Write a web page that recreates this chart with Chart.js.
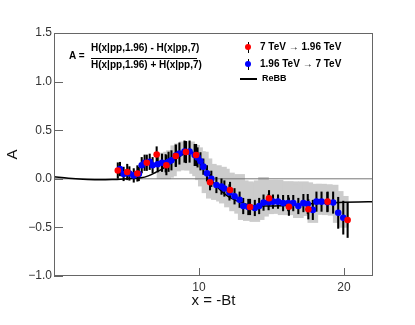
<!DOCTYPE html>
<html>
<head>
<meta charset="utf-8">
<script src="https://cdn.jsdelivr.net/npm/chart.js@4.4.0/dist/chart.umd.min.js"></script>
<style>
  body { margin: 0; background: #fff; }
  #wrap { position: relative; width: 415px; height: 325px; font-family: "Liberation Sans", Arial, sans-serif; }
  #c { position: absolute; left: 0; top: 0; }
  .t { position: absolute; font-weight: bold; font-size: 10px; line-height: 12px; white-space: nowrap; color: #000; }
  .t .ar { font-weight: normal; }
  .hl { position: absolute; background: #000; }
  .mk { position: absolute; width: 6px; height: 6px; border-radius: 50%; }
</style>
</head>
<body>
<div id="wrap">
  <canvas id="c" width="415" height="325"></canvas>

  <!-- asymmetry formula -->
  <div class="t" style="left:69px;top:50px">A =</div>
  <div class="t" style="left:91px;top:42px">H(x|pp,1.96) - H(x|pp,7)</div>
  <div class="hl" style="left:91px;top:58px;width:106px;height:1px"></div>
  <div class="t" style="left:91px;top:59px">H(x|pp,1.96) + H(x|pp,7)</div>

  <!-- legend -->
  <div class="hl" style="left:247.5px;top:42px;width:1.5px;height:11px"></div>
  <div class="mk" style="left:245px;top:44px;background:#ff0000"></div>
  <div class="t" style="left:260px;top:41px">7 TeV <span class="ar">&rarr;</span> 1.96 TeV</div>
  <div class="hl" style="left:247.5px;top:59px;width:1.5px;height:11px"></div>
  <div class="mk" style="left:245px;top:61px;background:#0000ff"></div>
  <div class="t" style="left:260px;top:58px">1.96 TeV <span class="ar">&rarr;</span> 7 TeV</div>
  <div class="hl" style="left:240px;top:78px;width:17px;height:2px"></div>
  <div class="t" style="left:262px;top:73px;font-size:9px;line-height:11px">ReBB</div>
</div>

<script>
// 1.96 TeV -> 7 TeV (blue)
const blueX = [4.55, 4.8, 5.2, 5.5, 5.85, 6.05, 6.25, 6.6, 6.8, 7.15,
               7.45, 7.7, 7.9, 8.1, 8.4, 8.65, 9.0, 9.35, 9.7, 9.9,
               10.1, 10.3, 10.55, 10.85, 11.2, 11.55, 11.75, 12.1, 12.45, 12.8,
               13.05, 13.4, 13.85, 14.15, 14.45, 14.8, 15.1, 15.45, 15.8, 16.15,
               16.5, 16.85, 17.2, 17.5, 17.85, 18.1, 18.45, 18.85, 19.25, 19.6, 19.95];
const blueY = [0.10, 0.05, 0.055, 0.035, 0.05, 0.14, 0.165, 0.175, 0.14, 0.15,
               0.165, 0.16, 0.175, 0.19, 0.24, 0.26, 0.28, 0.28, 0.245, 0.22,
               0.18, 0.125, 0.056, 0.0, -0.064, -0.08, -0.10, -0.14, -0.18, -0.215,
               -0.28, -0.29, -0.30, -0.28, -0.245, -0.24, -0.235, -0.235, -0.25, -0.25,
               -0.25, -0.28, -0.25, -0.26, -0.32, -0.235, -0.235, -0.24, -0.245, -0.35, -0.40];
const blueErr = [0.07, 0.07, 0.07, 0.07, 0.07, 0.08, 0.08, 0.08, 0.08, 0.08,
                 0.09, 0.09, 0.1, 0.1, 0.11, 0.11, 0.11, 0.11, 0.11, 0.1,
                 0.09, 0.08, 0.08, 0.08, 0.08, 0.08, 0.08, 0.08, 0.08, 0.08,
                 0.08, 0.08, 0.08, 0.08, 0.08, 0.08, 0.07, 0.07, 0.08, 0.08,
                 0.08, 0.08, 0.09, 0.1, 0.1, 0.1, 0.1, 0.1, 0.11, 0.16, 0.17];
// systematic band (gray boxes), up / down from the blue point
const sysUp = [null, null, null, null, null, null, null, null, null, null,
               0.1, 0.1, 0.1, 0.1, 0.1, 0.1, 0.1, 0.1, 0.1, 0.1,
               0.1, 0.15, 0.15, 0.15, 0.2, 0.2, 0.2, 0.2, 0.2, 0.26,
               0.26, 0.26, 0.26, 0.26, 0.26, 0.22, 0.22, 0.22, 0.22, 0.22,
               0.22, 0.22, 0.22, 0.22, 0.18, 0.18, 0.18, 0.18, 0.18, 0.22, 0.22];
const sysDn = [null, null, null, null, null, null, null, null, null, null,
               0.16, 0.16, 0.16, 0.16, 0.16, 0.16, 0.19, 0.19, 0.19, 0.19,
               0.19, 0.2, 0.2, 0.2, 0.15, 0.15, 0.15, 0.15, 0.15, 0.14,
               0.14, 0.14, 0.14, 0.14, 0.14, 0.12, 0.12, 0.12, 0.12, 0.12,
               0.12, 0.12, 0.12, 0.12, 0.13, 0.13, 0.13, 0.13, 0.13, 0.1, 0.1];

// 7 TeV -> 1.96 TeV (red)
const redX = [4.4, 5.05, 5.75, 6.4, 7.08, 7.75, 8.4, 9.1, 9.8, 10.76, 12.14, 13.52, 14.83, 16.2, 17.54, 18.87, 20.25];
const redY = [0.085, 0.07, 0.055, 0.165, 0.25, 0.14, 0.235, 0.275, 0.245, -0.035, -0.115, -0.29, -0.2, -0.287, -0.314, -0.235, -0.424];
const redErr = [0.08, 0.08, 0.08, 0.08, 0.08, 0.1, 0.11, 0.11, 0.11, 0.08, 0.08, 0.08, 0.08, 0.09, 0.1, 0.1, 0.18];

// ReBB model curve
const rebbX = [0, 1, 2, 3, 4, 5, 6, 6.5, 7, 7.5, 8, 8.5, 9, 9.3, 9.6, 10, 10.3, 10.6, 11, 11.5, 12, 12.5, 13, 13.5, 14, 15, 16, 17, 18, 19, 20, 21, 22];
const rebbY = [0.02, 0.005, -0.005, -0.01, -0.008, 0.0, 0.01, 0.03, 0.065, 0.105, 0.16, 0.215, 0.26, 0.275, 0.27, 0.22, 0.15, 0.07, -0.04, -0.12, -0.18, -0.22, -0.25, -0.27, -0.28, -0.28, -0.275, -0.265, -0.255, -0.248, -0.242, -0.238, -0.235];

const xRange = [0, 22];
const yRange = [-1, 1.5];
const xLabels = [10, 20];

const font = 'Liberation Sans';

const pts = (xs, ys) => xs.map((x, i) => ({x: x, y: ys[i]}));
const errBars = (xs, ys, es) => xs.map((x, i) => ({x: x, y: [ys[i] - es[i], ys[i] + es[i]]}));
const sysBoxes = blueX.map((x, i) => sysUp[i] == null ? null : {x: x, y: [blueY[i] - sysDn[i], blueY[i] + sysUp[i]]}).filter(Boolean);

// frame + inward ticks, ROOT style
const framePlugin = {
  id: 'frame',
  afterDatasetsDraw(chart) {
    const ctx = chart.ctx, a = chart.chartArea;
    const xs = chart.scales.x, ys = chart.scales.y;
    ctx.save();
    ctx.strokeStyle = '#666';
    ctx.lineWidth = 1;
    ctx.strokeRect(a.left + 0.5, a.top + 0.5, a.right - a.left - 1, a.bottom - a.top - 1);
    ctx.beginPath();
    ys.ticks.forEach(t => {
      const py = Math.round(ys.getPixelForValue(t.value)) + 0.5;
      ctx.moveTo(a.left, py);
      ctx.lineTo(a.left + 9, py);
    });
    xLabels.forEach(v => {
      const px = Math.round(xs.getPixelForValue(v)) + 0.5;
      ctx.moveTo(px, a.bottom);
      ctx.lineTo(px, a.bottom - 8);
    });
    ctx.stroke();
    ctx.restore();
  }
};

new Chart(document.getElementById('c'), {
  type: 'bar',
  data: {
    datasets: [
      { type: 'bar', data: sysBoxes, backgroundColor: '#cccccc', barThickness: 10, grouped: false, order: 7 },
      { type: 'line', data: pts(xRange, [0, 0]), borderColor: '#777', borderWidth: 1, pointRadius: 0, order: 6 },
      { type: 'bar', data: errBars(blueX, blueY, blueErr), backgroundColor: '#000', barThickness: 1.4, grouped: false, order: 5 },
      { type: 'bar', data: errBars(redX, redY, redErr), backgroundColor: '#000', barThickness: 1.4, grouped: false, order: 4 },
      { type: 'line', data: pts(rebbX, rebbY), borderColor: '#000', borderWidth: 1.5, pointRadius: 0,
        cubicInterpolationMode: 'monotone', order: 3 },
      { type: 'scatter', data: pts(blueX, blueY), backgroundColor: '#0000ff', borderWidth: 0, pointRadius: 3.3, order: 2 },
      { type: 'scatter', data: pts(redX, redY), backgroundColor: '#ff0000', borderWidth: 0, pointRadius: 3.3, order: 1 }
    ]
  },
  options: {
    responsive: false,
    animation: false,
    layout: { padding: { top: 33, right: 42, left: 0, bottom: 0 } },
    plugins: { legend: { display: false }, tooltip: { enabled: false } },
    scales: {
      x: {
        type: 'linear', min: xRange[0], max: xRange[1], offset: false,
        grid: { display: false, drawTicks: false, offset: false },
        border: { display: false },
        ticks: { stepSize: 10, maxRotation: 0, padding: 4, color: '#333', font: { family: font, size: 12 },
                 callback: v => xLabels.includes(v) ? v : '' },
        title: { display: true, text: 'x = -Bt', color: '#111', font: { family: font, size: 15 },
                 padding: { top: 0, bottom: 15 } },
        afterFit: s => { s.height = 49; }
      },
      y: {
        min: yRange[0], max: yRange[1],
        grid: { display: false, drawTicks: false },
        border: { display: false },
        ticks: { stepSize: 0.5, padding: 2, color: '#333', font: { family: font, size: 12 },
                 callback: v => (v < 0 ? '\u2212' : '') + Math.abs(v).toFixed(1) },
        title: { display: true, text: 'A', color: '#111', font: { family: font, size: 15 },
                 padding: { top: 4, bottom: 0 } },
        afterFit: s => { s.width = 54; }
      }
    }
  },
  plugins: [framePlugin]
});
</script>
</body>
</html>
